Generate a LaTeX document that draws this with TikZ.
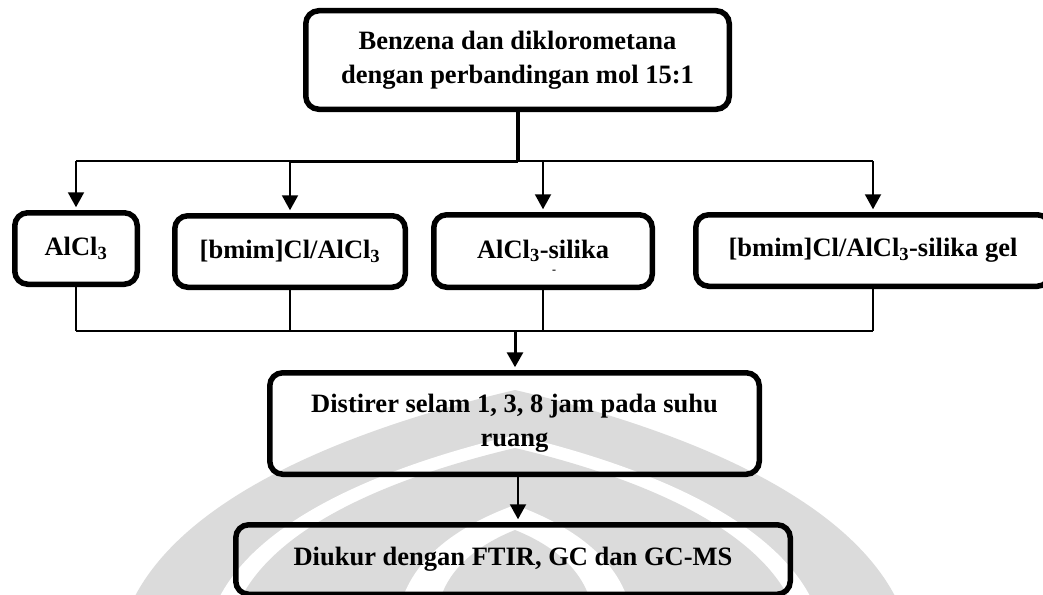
\documentclass[tikz,border=0pt]{standalone}
\usepackage{fontspec}
\setmainfont{Liberation Serif}
\usetikzlibrary{arrows.meta}

% pointed arch of the faint background emblem: half width, apex height, style
\newcommand\wmarch[3]{%
  \fill[#3] ({515-#1},600)
    .. controls ({515-0.85*#1},{600-0.55*(600-#2)}) and ({515-0.35*#1},{600-0.85*(600-#2)}) .. (515,#2)
    .. controls ({515+0.35*#1},{600-0.85*(600-#2)}) and ({515+0.85*#1},{600-0.55*(600-#2)}) .. ({515+#1},600)
    -- cycle;}

\begin{document}
\begin{tikzpicture}[x=1pt,y=-1pt,
  box/.style={draw, line width=5.5pt, rounded corners=13pt, align=center,
    inner sep=0pt, font=\fontsize{26.5}{34}\selectfont\bfseries},
  link/.style={line width=2pt},
  arr/.style={line width=2pt, -{Triangle[width=16pt,length=15pt]}},
  wm/.style={fill=black!14, draw=none},
  wmgap/.style={fill=white, draw=none}]

\clip (0,0) rectangle (1043,594);
\fill[white] (0,0) rectangle (1043,594);

% faint emblem behind the lower part
\wmarch{382}{390}{wm}
\wmarch{297}{435}{wmgap}
\wmarch{275}{448}{wm}
\wmarch{113}{505}{wmgap}
\wmarch{75}{530}{wm}

% boxes
\node[box, minimum width=423.5pt, minimum height=98.5pt] (feed) at (517.5,60)
  {Benzena dan diklorometana\\dengan perbandingan mol 15:1};
\node[box, minimum width=122.5pt, minimum height=71.5pt] (al) at (76,248.5)
  {AlCl\textsubscript{3}};
\node[box, minimum width=230.5pt, minimum height=71.5pt] (bm) at (290,251.5)
  {[bmim]Cl/AlCl\textsubscript{3}};
\node[box, minimum width=218.5pt, minimum height=72.5pt] (si) at (543,251)
  {AlCl\textsubscript{3}-silika};
\node[font=\fontsize{12}{12}\selectfont\bfseries] (dash) at (554,272) {-};
\node[box, minimum width=354.5pt, minimum height=71.5pt] (gel) at (873,250.5)
  {[bmim]Cl/AlCl\textsubscript{3}-silika gel};
\node[box, minimum width=489.5pt, minimum height=101.5pt] (stir) at (514.5,423.5)
  {Distirer selam 1, 3, 8 jam pada suhu\\ruang};
\node[box, minimum width=554.5pt, minimum height=69.5pt] (meas) at (513,559.5)
  {Diukur dengan FTIR, GC dan GC-MS};

% branching to the four catalysts
\coordinate (split) at (518,161);
\draw[line width=4pt] (split |- feed.south) -- (split);
\draw[link] (split -| al.north) -- (split -| gel.north);
\draw[line width=3pt] (split -| bm.north) -- (split);
\foreach \n in {al,bm,si,gel}
  \draw[arr] (split -| \n.north) -- ([yshift=2.75pt]\n.north);

% joining the four catalysts
\coordinate (merge) at (515,331);
\foreach \n in {al,bm,si,gel}
  \draw[link] (\n.south) -- (\n.south |- merge);
\draw[link] (merge -| al.south) -- (merge -| gel.south);
\draw[arr, line width=3pt] (merge) -- ([yshift=2.75pt]merge |- stir.north);

% stirring to measurement
\coordinate (s1) at ([xshift=3.5pt]stir.south);
\draw[arr, shorten >=2.75pt] (s1) -- (s1 |- meas.north);
\end{tikzpicture}
\end{document}
